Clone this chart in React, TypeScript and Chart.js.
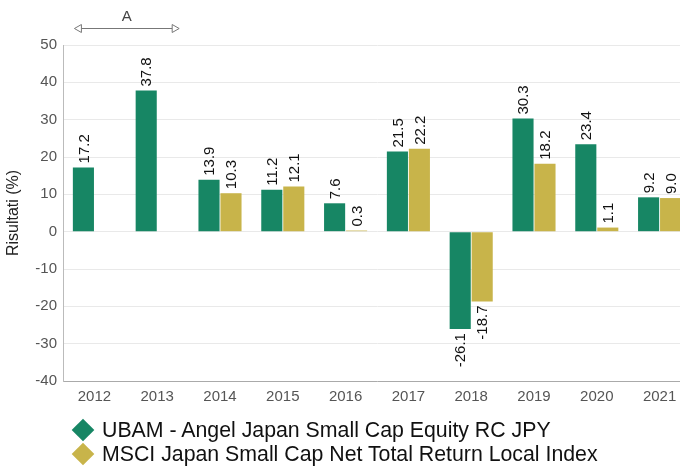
import React, { useEffect, useRef } from "react";
import { Chart, registerables } from "chart.js";

Chart.register(...registerables);

const categories = ["2012", "2013", "2014", "2015", "2016", "2017", "2018", "2019", "2020", "2021"];
const fundLabel = "UBAM - Angel Japan Small Cap Equity RC JPY";
const indexLabel = "MSCI Japan Small Cap Net Total Return Local Index";
const fundValues = [17.2, 37.8, 13.9, 11.2, 7.6, 21.5, -26.1, 30.3, 23.4, 9.2];
const indexValues: (number | null)[] = [null, null, 10.3, 12.1, 0.3, 22.2, -18.7, 18.2, 1.1, 9.0];
const yMin = -40;
const yMax = 50;
const yStep = 10;
const yTitle = "Risultati (%)";
const annotationText = "A";
const annotationFrom = 0; // index of 2012
const annotationTo = 1; // index of 2013

const GREEN = "#178664";
const GOLD = "#c8b44a";
const FONT = "'Liberation Sans', Arial, sans-serif";
const CAT_PCT = 0.7;

const labelPlugin = {
  id: "barLabels",
  afterDatasetsDraw(chart: any) {
    const ctx = chart.ctx;
    ctx.save();
    ctx.font = `15px ${FONT}`;
    ctx.fillStyle = "#111";
    ctx.textBaseline = "middle";
    chart.data.datasets.forEach((ds: any, di: number) => {
      const meta = chart.getDatasetMeta(di);
      meta.data.forEach((el: any, i: number) => {
        const v = ds.data[i];
        if (v === null || v === undefined) return;
        const txt = v.toFixed(1);
        ctx.save();
        if (v >= 0) {
          ctx.translate(el.x + 1, el.y - 4);
          ctx.rotate(-Math.PI / 2);
          ctx.textAlign = "left";
        } else {
          ctx.translate(el.x + 1, el.y + 4);
          ctx.rotate(-Math.PI / 2);
          ctx.textAlign = "right";
        }
        ctx.fillText(txt, 0, 0);
        ctx.restore();
      });
    });
    ctx.restore();
  },
  afterDraw(chart: any) {
    const ctx = chart.ctx;
    const xs = chart.scales.x;
    const catW = xs.getPixelForValue(1) - xs.getPixelForValue(0);
    const half = (catW * CAT_PCT) / 2;
    const x0 = xs.getPixelForValue(annotationFrom) - half + 2;
    const x1 = xs.getPixelForValue(annotationTo) + half;
    const y = 28;
    ctx.save();
    ctx.strokeStyle = "#777";
    ctx.lineWidth = 1;
    ctx.beginPath();
    ctx.moveTo(x0 + 7, y + 0.5);
    ctx.lineTo(x1 - 7, y + 0.5);
    ctx.stroke();
    ctx.fillStyle = "#fff";
    ctx.beginPath();
    ctx.moveTo(x0, y + 0.5);
    ctx.lineTo(x0 + 7, y - 3.5);
    ctx.lineTo(x0 + 7, y + 4.5);
    ctx.closePath();
    ctx.fill();
    ctx.stroke();
    ctx.beginPath();
    ctx.moveTo(x1, y + 0.5);
    ctx.lineTo(x1 - 7, y - 3.5);
    ctx.lineTo(x1 - 7, y + 4.5);
    ctx.closePath();
    ctx.fill();
    ctx.stroke();
    ctx.fillStyle = "#444";
    ctx.font = `15px ${FONT}`;
    ctx.textAlign = "center";
    ctx.textBaseline = "middle";
    ctx.fillText(annotationText, (x0 + x1) / 2, 17);
    ctx.restore();
  },
};

export default function App() {
  const ref = useRef<HTMLCanvasElement | null>(null);
  useEffect(() => {
    if (!ref.current) return;
    const chart = new Chart(ref.current, {
      type: "bar",
      data: {
        labels: categories,
        datasets: [
          {
            label: fundLabel,
            data: fundValues,
            backgroundColor: GREEN,
            borderWidth: 0,
            categoryPercentage: CAT_PCT,
            barPercentage: 0.96,
          },
          {
            label: indexLabel,
            data: indexValues as any,
            backgroundColor: GOLD,
            borderWidth: 0,
            categoryPercentage: CAT_PCT,
            barPercentage: 0.96,
          },
        ],
      },
      options: {
        responsive: false,
        animation: false,
        devicePixelRatio: 1,
        layout: { padding: { top: 45, bottom: 60, left: 0, right: 0 } },
        plugins: {
          legend: { display: false },
          tooltip: { enabled: false },
        },
        scales: {
          x: {
            grid: { display: false, drawTicks: false },
            border: { color: "#aaa" },
            ticks: { color: "#555", font: { size: 15, family: FONT }, padding: 7 },
            afterFit(scale: any) {
              scale.height = 26;
            },
          },
          y: {
            min: yMin,
            max: yMax,
            grid: { color: "#e9e9e9", drawTicks: false },
            border: { color: "#bbb" },
            ticks: { stepSize: yStep, color: "#555", font: { size: 15, family: FONT }, padding: 6 },
            title: {
              display: true,
              text: yTitle,
              color: "#222",
              font: { size: 16, family: FONT },
              padding: 4,
            },
            afterFit(scale: any) {
              scale.width = 63;
            },
          },
        },
      },
      plugins: [labelPlugin],
    });
    return () => chart.destroy();
  }, []);

  const diamond = (color: string) => (
    <span
      style={{
        position: "absolute",
        left: 75,
        top: -8,
        width: 16,
        height: 16,
        background: color,
        transform: "rotate(45deg)",
      }}
    />
  );
  const row = (label: string, color: string, cy: number) => (
    <div style={{ position: "absolute", left: 0, top: cy, width: 680, height: 0 }}>
      {diamond(color)}
      <span
        style={{
          position: "absolute",
          left: 102,
          top: -13,
          fontFamily: FONT,
          fontSize: 21.3,
          lineHeight: "26px",
          color: "#111",
          whiteSpace: "nowrap",
        }}
      >
        {label}
      </span>
    </div>
  );

  return (
    <div
      style={{
        position: "fixed",
        left: 0,
        top: 0,
        width: 680,
        height: 467,
        overflow: "hidden",
        background: "#fff",
      }}
    >
      <canvas ref={ref} width={691} height={467} style={{ position: "absolute", left: 0, top: 0, width: 691, height: 467 }} />
      {row(fundLabel, GREEN, 430)}
      {row(indexLabel, GOLD, 454)}
    </div>
  );
}
